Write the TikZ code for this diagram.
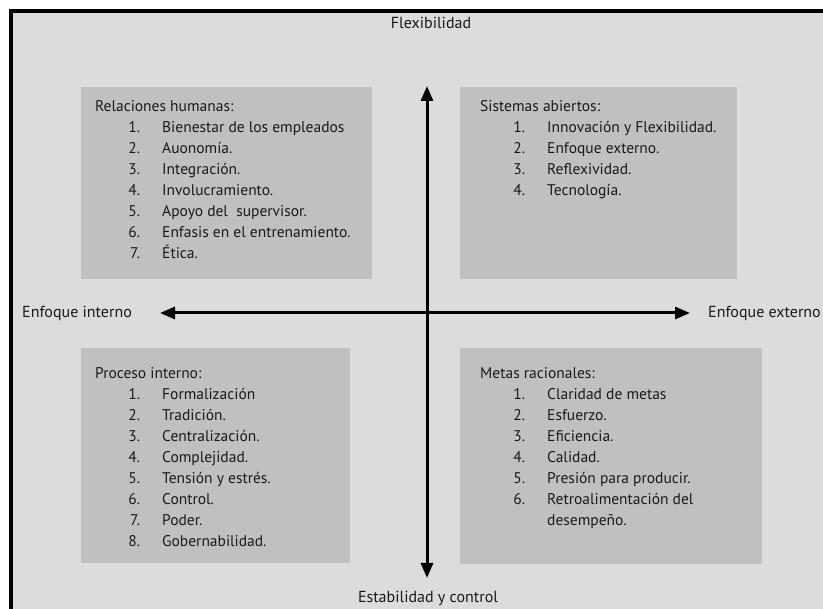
\documentclass[tikz,border=0pt]{standalone}
\usepackage{fontspec}
\setmainfont{PT Sans}
\usetikzlibrary{arrows.meta}
\definecolor{fondo}{HTML}{DCDCDC}
\definecolor{caja}{HTML}{C0C0C0}
\definecolor{tinta}{HTML}{1A1A1A}
\newcommand{\lista}[2]{\makebox[45pt][r]{#1}\hspace{22pt}#2}
\tikzset{
  cuadrante/.style={fill=caja},
  texto/.style={anchor=north west, align=left, inner sep=0pt, text=tinta,
    font=\fontsize{15.5}{21.1}\selectfont},
  eje/.style={line width=3pt, {Triangle[width=12pt,length=15pt]}-{Triangle[width=12pt,length=15pt]}},
  rotulo/.style={text=tinta, font=\fontsize{16}{18}\selectfont, inner sep=0pt}
}
\begin{document}
\begin{tikzpicture}[x=1pt,y=-1pt]
\useasboundingbox (0,0) rectangle (823,609);
\fill[white] (0,0) rectangle (823,609);
\fill[fondo] (11,11) rectangle (823,609);
\draw[line width=4pt] (11,609) -- (11,11) -- (823,11);
% cuadrantes
\fill[cuadrante] (81,87) rectangle (372,279);
\fill[cuadrante] (460,87) rectangle (737,279);
\fill[cuadrante] (81,348) rectangle (350,563);
\fill[cuadrante] (460,348) rectangle (762,564);
% ejes
\coordinate (arriba) at (427,86);
\coordinate (abajo) at (427,578);
\coordinate (izq) at (160,313);
\coordinate (der) at (690,313);
\draw[eje] (izq) -- (der);
\draw[eje] (abajo) -- (arriba);
\node[rotulo] (flex) at (431,23) {Flexibilidad};
\node[rotulo] (estab) at (428,598) {Estabilidad y control};
\node[rotulo, anchor=west] (interno) at (22,313) {Enfoque interno};
\node[rotulo, anchor=east] (externo) at (821,313) {Enfoque externo};
% textos de los cuadrantes
\node[texto] (rh) at (95,100) {Relaciones humanas:\\
  \lista{1.}{Bienestar de los empleados}\\
  \lista{2.}{Auonomía.}\\
  \lista{3.}{Integración.}\\
  \lista{4.}{Involucramiento.}\\
  \lista{5.}{Apoyo del\ \ supervisor.}\\
  \lista{6.}{Enfasis en el entrenamiento.}\\
  \lista{7.}{Ética.}};
\node[texto] (sa) at (480,100) {Sistemas abiertos:\\
  \lista{1.}{Innovación y Flexibilidad.}\\
  \lista{2.}{Enfoque externo.}\\
  \lista{3.}{Reflexividad.}\\
  \lista{4.}{Tecnología.}};
\node[texto] (pi) at (95,367) {Proceso interno:\\
  \lista{1.}{Formalización}\\
  \lista{2.}{Tradición.}\\
  \lista{3.}{Centralización.}\\
  \lista{4.}{Complejidad.}\\
  \lista{5.}{Tensión y estrés.}\\
  \lista{6.}{Control.}\\
  \lista{7.}{Poder.}\\
  \lista{8.}{Gobernabilidad.}};
\node[texto] (mr) at (480,367) {Metas racionales:\\
  \lista{1.}{Claridad de metas}\\
  \lista{2.}{Esfuerzo.}\\
  \lista{3.}{Eficiencia.}\\
  \lista{4.}{Calidad.}\\
  \lista{5.}{Presión para producir.}\\
  \lista{6.}{Retroalimentación del}\\
  \hspace{67pt}desempeño.};
\end{tikzpicture}
\end{document}
